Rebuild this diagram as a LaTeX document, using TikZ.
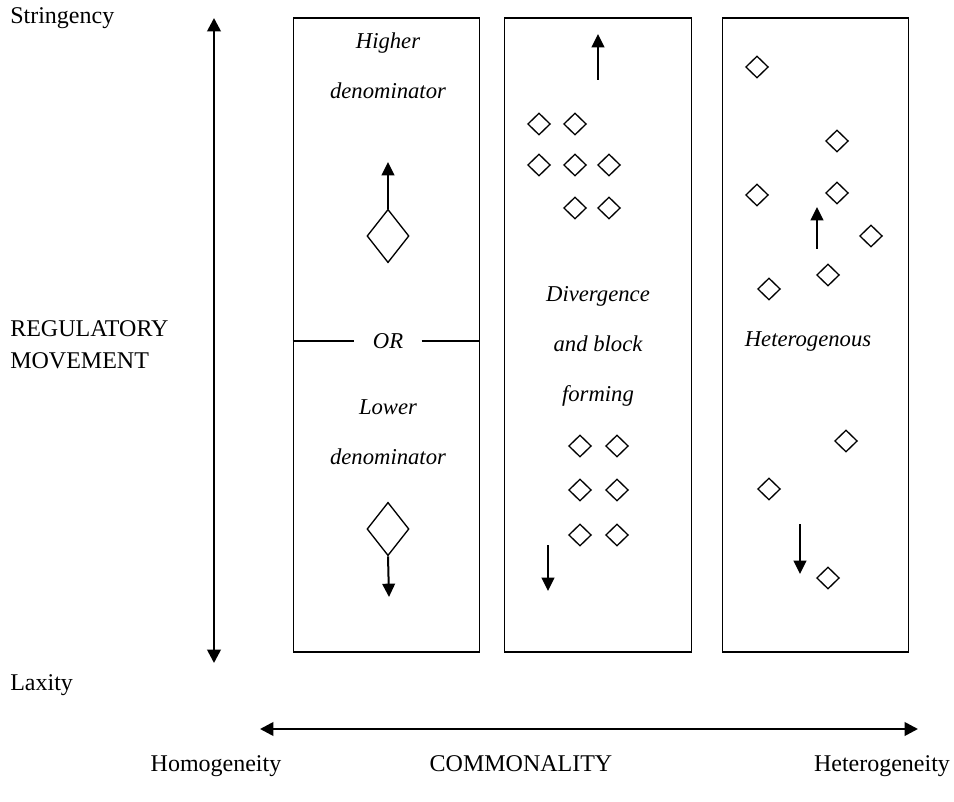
\documentclass[tikz,border=0pt]{standalone}
\usepackage{fontspec}
\setmainfont{Liberation Serif}
\usetikzlibrary{shapes.geometric,arrows.meta,positioning}

\begin{document}
\begin{tikzpicture}[
    x=0.75pt,
    y=-0.75pt,
    panel/.style={
        rectangle,
        draw=black,
        line width=0.9pt,
        minimum width=140pt,
        minimum height=475.5pt,
        inner sep=0pt
    },
    bigdia/.style={
        diamond,
        draw=black,
        line width=1pt,
        minimum width=31.5pt,
        minimum height=40pt,
        inner sep=0pt
    },
    dia/.style={
        diamond,
        draw=black,
        line width=1pt,
        minimum width=17pt,
        minimum height=16.5pt,
        inner sep=0pt
    },
    note/.style={
        font=\itshape\fontsize{17pt}{37.5pt}\selectfont,
        align=center,
        inner sep=0pt
    },
    axislabel/.style={
        font=\fontsize{18pt}{24pt}\selectfont,
        inner sep=0pt
    },
    move/.style={
        line width=1.5pt,
        -{Triangle[width=9.5pt,length=10pt]}
    },
    axis/.style={
        line width=2pt,
        {Triangle[width=10pt,length=10pt]}-{Triangle[width=10pt,length=10pt]}
    }
]
\useasboundingbox (0,0) rectangle (954,802);

% Panourile
\node[panel] (left) at (386.5,335) {};
\node[panel] (middle) at (598,335) {};
\node[panel] (right) at (815.5,335) {};

% Axa verticala
\coordinate (strtop) at (214,18);
\coordinate (laxbot) at (214,663);
\draw[axis] (laxbot) -- (strtop);
\node[axislabel, anchor=base west] (stringency) at (10,24) {Stringency};
\node[axislabel, anchor=base west] (laxity) at (10,690) {Laxity};
\node[axislabel, anchor=west, align=left] (regmove) at (10,345) {REGULATORY\\MOVEMENT};

% Axa orizontala
\coordinate (homleft) at (260,729);
\coordinate (hetright) at (918,729);
\draw[axis] (homleft) -- (hetright);
\node[axislabel, anchor=base] (homog) at (216,771) {Homogeneity};
\node[axislabel, anchor=base] (common) at (521,771) {COMMONALITY};
\node[axislabel, anchor=base] (heterog) at (882,771) {Heterogeneity};

% Panoul stang
\node[note] (higher) at (388,66) {Higher\\denominator};
\node[bigdia] (hdia) at (388,236) {};
\coordinate (hup) at (388,162);
\draw[move] (hdia.north) -- (hup);
\node[note, minimum width=50pt] (or) at (388,341) {OR};
\draw[line width=0.9pt] (left.west |- or) -- (or.west);
\draw[line width=0.9pt] (or.east) -- (left.east |- or);
\node[note] (lower) at (388,432) {Lower\\denominator};
\node[bigdia] (ldia) at (388,529) {};
\coordinate (ldown) at (389,597);
\draw[move] (ldia.south) -- (ldown);

% Panoul din mijloc
\foreach \x/\y in {539/124,575/124,539/165,575/165,609/165,575/208,609/208,
                   580/446,617/446,580/490,617/490,580/535,617/535}
    \node[dia] (m-\x-\y) at (\x,\y) {};
\coordinate (mupfrom) at (598,80);
\coordinate (mupto) at (598,34);
\draw[move] (mupfrom) -- (mupto);
\coordinate (mdownfrom) at (548,545);
\coordinate (mdownto) at (548,591);
\draw[move] (mdownfrom) -- (mdownto);
\node[note] (diverge) at (598,346) {Divergence\\and block\\forming};

% Panoul drept
\foreach \x/\y in {757/67,837/141,757/195,837/193,871/236,828/275,769/289,
                   846/441,769/489,828/578}
    \node[dia] (r-\x-\y) at (\x,\y) {};
\coordinate (rupfrom) at (817,249);
\coordinate (rupto) at (817,207);
\draw[move] (rupfrom) -- (rupto);
\coordinate (rdownfrom) at (800,524);
\coordinate (rdownto) at (800,574);
\draw[move] (rdownfrom) -- (rdownto);
\node[note] (hetero) at (808,341) {Heterogenous};

\end{tikzpicture}
\end{document}
